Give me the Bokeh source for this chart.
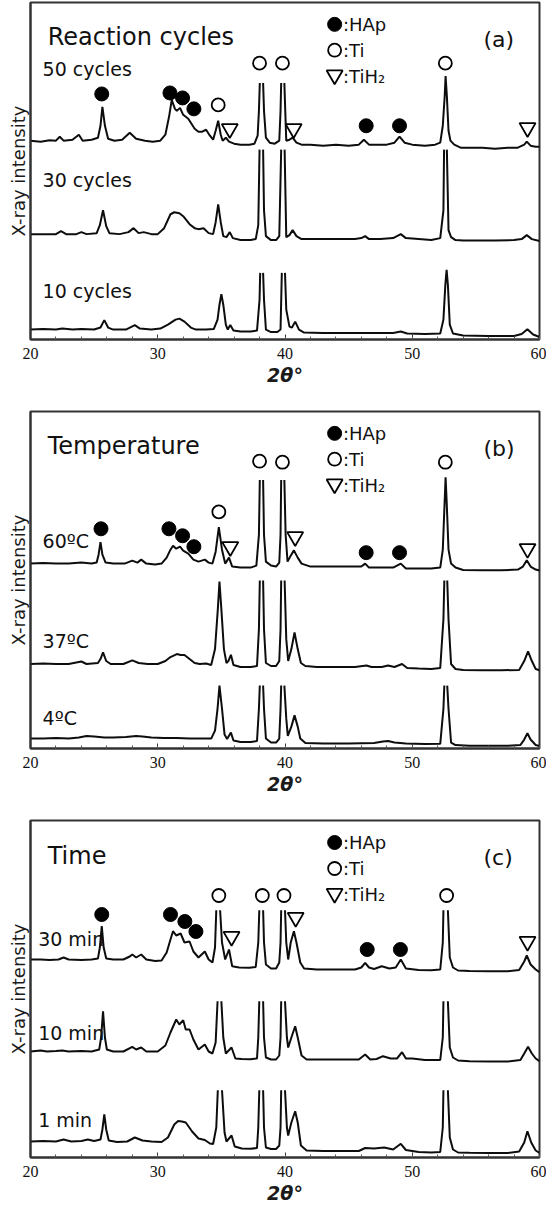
import numpy as np
from bokeh.plotting import figure
from bokeh.layouts import column
from bokeh.models import Range1d, Label, SingleIntervalTicker, FixedTicker
from bokeh.embed import file_html
from bokeh.resources import INLINE

# ---------------- data (2theta in degrees, intensity in arbitrary stacked units) -------------
N = None
cyc50 = [(20.0,200),(20.8,199),(21.5,200.5),(22.0,200),(22.3,204),(22.6,200),(23.3,201),(23.8,206),(24.1,200),
 (24.8,201),(25.3,203),(25.5,215),(25.65,234),(25.85,215),(26.1,202),(26.6,200),(27.2,201),(27.8,208),(28.3,202),
 (29.0,200),(29.6,199),(30.2,200),(30.6,206),(30.9,225),(31.1,241),(31.35,232),(31.5,230),(31.75,233),(32.0,226),
 (32.4,222),(32.7,216),(32.9,212),(33.2,209),(33.5,209),(33.8,211),(34.1,205),(34.35,201),(34.55,210),(34.75,220),
 (34.95,206),(35.1,200),(35.35,203),(35.6,199),(36.0,197),(36.5,196),(37.2,196),(37.6,197),(37.85,205),(37.95,230),
 (38.02,258),(N,N),(38.28,258),(38.35,230),(38.5,203),(38.8,198),(39.2,197),(39.55,200),(39.65,230),(39.7,258),(N,N),
 (39.95,258),(40.02,230),(40.1,200),(40.35,201),(40.6,203),(40.9,198),(41.3,196),(42.0,196),(43.0,195),(44.0,196),
 (45.0,195),(45.8,196),(46.2,201),(46.6,196),(47.2,196),(48.0,196),(48.6,198),(49.0,204),(49.4,198),(50.0,196),
 (51.0,195),(51.8,196),(52.2,198),(52.4,215),(52.55,245),(52.62,265),(52.72,245),(52.85,210),(53.0,200),(53.3,196),
 (53.8,193),(54.5,193),(55.5,193),(56.5,192),(57.5,193),(58.3,193),(58.8,196),(59.0,199),(59.3,195),(59.7,194),(60.0,194)]
cyc30 = [(20.0,106),(21.0,106),(22.0,106),(22.4,109),(22.8,106),(23.6,106),(24.0,108),(24.4,106),(25.2,107),
 (25.45,115),(25.7,130),(25.95,114),(26.2,107),(27.0,106),(27.7,108),(28.1,112),(28.5,107),(28.9,108),(29.5,106),
 (30.0,106),(30.5,112),(31.0,126),(31.3,128),(31.7,127),(32.0,124),(32.5,116),(32.9,112),(33.2,111),(33.6,112),
 (34.0,107),(34.35,106),(34.55,118),(34.75,136),(34.95,118),(35.15,104),(35.4,103),(35.66,108),(35.9,102),(36.5,100),
 (37.3,100),(37.7,101),(37.9,115),(38.0,191),(N,N),(38.28,191),(38.35,130),(38.5,104),(38.9,100),(39.3,100),
 (39.55,104),(39.7,191),(N,N),(39.97,191),(40.1,103),(40.35,105),(40.6,110),(40.9,104),(41.3,101),(42.5,101),
 (44.0,101),(45.5,101),(46.0,102),(46.3,104),(46.6,101),(47.5,101),(48.5,102),(49.1,106),(49.5,102),(50.5,101),
 (51.5,100),(52.2,102),(52.45,130),(52.5,191),(N,N),(52.72,191),(52.85,110),(53.05,103),(53.4,100),(54.0,99.7),
 (55.0,99.5),(56.5,99.5),(58.0,100),(58.6,101),(59.0,105),(59.4,101),(60.0,99)]
cyc10 = [(20.0,10),(21.0,10.5),(22.0,10),(22.5,11),(23.3,10),(24.0,10.5),(25.0,10),(25.5,12),(25.8,19.5),(26.1,12),
 (26.5,10),(27.5,10),(28.2,14.5),(28.6,11),(29.5,10),(30.2,11),(30.8,15),(31.4,20),(31.7,21),(32.1,18),(32.6,12),
 (33.0,10),(33.8,10),(34.4,10.5),(34.7,20),(34.85,35),(35.0,45.5),(35.15,35),(35.35,15),(35.5,10),(35.7,14.5),
 (35.95,9),(36.5,8),(37.3,8),(37.8,9),(38.0,40),(38.05,67),(N,N),(38.28,67),(38.35,40),(38.5,10),(38.9,7.5),
 (39.4,7.5),(39.65,10),(39.75,67),(N,N),(40.0,67),(40.1,30),(40.35,13),(40.55,12),(40.8,18),(41.1,10),(41.5,7),
 (43.0,6.5),(45.0,6.5),(47.0,6.5),(48.5,6.5),(49.1,8),(49.6,6),(51.0,5.5),(52.2,6),(52.45,20),(52.6,55),(52.7,70),
 (52.8,55),(52.95,15),(53.2,6),(54.0,4),(56.0,3.5),(58.0,3.5),(58.6,5.5),(59.05,10.3),(59.5,5),(60.0,2.5)]

t60 = [(20.0,186),(21.0,186.5),(22.0,186),(23.0,186),(24.0,187),(24.8,186),(25.2,187),(25.35,195),(25.5,207.7),
 (25.65,195),(25.9,187),(26.5,186),(27.4,186),(28.0,189),(28.4,187),(28.7,190),(29.1,186),(29.8,185),(30.3,186),
 (30.7,192),(31.0,200),(31.2,204),(31.45,201),(31.75,203),(32.0,199),(32.4,196),(32.8,190),(33.2,188),(33.7,190),
 (34.0,187),(34.3,186),(34.55,198),(34.8,222.7),(35.05,200),(35.3,186),(35.6,192),(35.85,183),(36.5,182),(37.3,182),
 (37.75,184),(37.95,215),(38.02,270),(N,N),(38.28,270),(38.35,215),(38.5,188),(38.9,184),(39.3,183),(39.55,187),
 (39.65,215),(39.7,270),(N,N),(39.95,270),(40.05,215),(40.2,188),(40.45,194),(40.7,199.3),(41.0,192),(41.3,186),
 (42.0,183),(43.0,183),(44.0,183),(45.5,183),(46.0,183),(46.3,186),(46.6,182),(47.5,182),(48.5,182),(49.1,186),
 (49.5,181),(50.5,181),(51.5,181),(52.2,182),(52.4,200),(52.55,250),(52.62,272.7),(52.7,250),(52.85,200),(53.05,186),
 (53.4,182),(54.0,179.5),(55.5,179.3),(57.0,179.3),(58.3,180),(58.7,183),(59.0,189.3),(59.3,183),(59.7,180),(60.0,179)]
t37 = [(20.0,85),(21.0,85.5),(22.0,85),(23.0,85),(24.0,87.5),(24.4,85),(25.3,86),(25.5,90),(25.7,96.7),(25.95,88),
 (26.3,85),(27.3,85),(28.0,88.7),(28.5,86),(29.2,85),(30.0,85),(30.6,88),(31.0,92),(31.5,95),(31.8,94),(32.1,94),
 (32.5,90),(32.9,86),(33.3,85),(33.8,85.5),(34.2,84),(34.5,100),(34.72,140),(34.85,168),(35.0,140),(35.2,100),
 (35.4,86),(35.55,88),(35.75,94.3),(35.95,84),(36.5,82),(37.3,82),(37.8,83),(37.95,120),(38.02,169),(N,N),(38.28,169),
 (38.35,120),(38.5,86),(38.9,83),(39.3,83),(39.55,88),(39.65,120),(39.7,169),(N,N),(39.97,169),(40.1,110),(40.25,88),
 (40.5,100),(40.75,116.7),(41.0,100),(41.25,86),(41.6,83),(42.5,82),(44.0,82),(45.5,82),(46.4,83.5),(46.8,82),
 (47.6,82),(48.1,83.5),(48.6,82),(49.2,85),(49.6,81),(50.5,80.5),(51.5,80),(52.2,81),(52.45,130),(52.52,169),(N,N),
 (52.75,169),(52.85,130),(53.05,85),(53.4,80),(54.0,79),(55.5,78.7),(57.0,78.7),(58.4,79),(58.8,88),(59.1,97.7),
 (59.4,88),(59.7,80),(60.0,78.7)]
t4 = [(20.0,10),(21.0,10),(22.0,10.5),(23.0,10),(23.8,11),(24.4,12.5),(25.0,12),(25.8,11),(26.5,11),(27.5,11.5),
 (28.3,12.5),(28.8,12),(29.5,11),(30.5,10.5),(31.5,10.5),(32.5,10),(33.5,10),(34.2,10),(34.5,18),(34.7,40),(34.85,63.3),
 (35.05,40),(35.25,14),(35.45,9.5),(35.75,16),(35.95,8),(36.5,6.5),(37.3,6.5),(37.8,7.5),(37.95,40),(38.02,63.3),(N,N),
 (38.28,63.3),(38.35,40),(38.5,10),(38.9,6),(39.3,6),(39.55,10),(39.65,40),(39.7,63.3),(N,N),(39.95,63.3),(40.1,30),
 (40.22,12.7),(40.5,22),(40.75,33.3),(41.0,22),(41.2,10),(41.6,5.5),(43.0,5),(45.0,5),(47.0,5.5),(47.7,7),(48.1,7.5),
 (48.6,6),(49.5,5),(51.0,4.5),(52.2,4.7),(52.45,40),(52.52,63.3),(N,N),(52.75,63.3),(52.85,40),(53.05,6),(53.4,3.5),
 (54.5,2.7),(56.0,2.7),(57.5,2.7),(58.5,3.5),(58.8,9),(59.05,15.3),(59.3,9),(59.7,3.5),(60.0,2.5)]

m30 = [(20.0,198),(20.8,198),(21.5,197.5),(22.2,198),(22.6,200),(23.0,198),(24.0,197.5),(24.8,198),(25.3,199),
 (25.45,210),(25.6,231.3),(25.75,210),(25.95,199),(26.5,198),(27.3,198),(27.8,201),(28.0,203),(28.3,200),(28.7,203),
 (29.1,198),(29.8,196.5),(30.3,197),(30.7,205),(31.0,218),(31.2,226.3),(31.45,222),(31.8,224),(32.1,215),(32.5,216),
 (32.8,206),(33.2,200),(33.7,206),(34.0,198),(34.3,195),(34.5,210),(34.6,247.3),(N,N),(34.9,247.3),(35.05,215),
 (35.3,198),(35.6,208),(35.85,191.3),(36.4,190),(37.2,189.7),(37.7,190.5),(37.9,215),(37.98,247.3),(N,N),(38.28,247.3),
 (38.35,215),(38.5,193),(38.9,189),(39.3,189),(39.55,195),(39.65,215),(39.7,247.3),(N,N),(40.0,247.3),(40.1,215),
 (40.25,198),(40.45,215),(40.7,226.3),(40.9,215),(41.2,195),(41.5,189),(42.5,188),(44.0,188),(45.5,188),(46.0,190),
 (46.3,194.7),(46.6,190),(47.0,188.5),(47.6,191.3),(48.2,189),(48.7,190),(49.1,198),(49.5,189),(50.5,187.5),
 (51.5,187.3),(52.2,188),(52.4,215),(52.45,247.3),(N,N),(52.8,247.3),(52.95,200),(53.2,190),(53.6,187),(54.5,186.5),
 (56.0,186.3),(57.5,186.3),(58.4,187.5),(58.8,196),(59.0,202),(59.3,193),(59.7,188),(60.0,185.3)]
m10 = [(20.0,106),(20.8,107),(21.3,106),(22.0,106.5),(22.5,107),(23.0,106),(24.0,106.5),(24.8,106),(25.4,108),
 (25.55,120),(25.7,146.3),(25.85,120),(26.0,108),(26.5,106),(27.3,106),(28.0,110.6),(28.3,108),(28.7,110),(29.1,106),
 (30.0,106),(30.6,112),(31.0,125),(31.45,138),(31.7,133),(32.0,137.3),(32.2,128),(32.5,128),(32.8,118),(33.2,108),
 (33.7,113),(34.0,106),(34.3,104),(34.55,115),(34.7,156.3),(N,N),(35.0,156.3),(35.15,120),(35.35,104),(35.8,110),
 (36.1,99),(36.6,98.5),(37.3,98.3),(37.8,99),(37.9,120),(37.98,156.3),(N,N),(38.28,156.3),(38.35,120),(38.5,100),
 (38.9,98),(39.3,98),(39.55,102),(39.65,120),(39.7,156.3),(N,N),(40.0,156.3),(40.15,120),(40.25,110),(40.5,120),
 (40.8,131.3),(41.0,120),(41.3,102),(41.7,98),(43.0,98),(44.5,98),(45.8,98),(46.3,103),(46.7,98),(47.2,98.5),
 (47.7,101.3),(48.3,99),(48.8,99),(49.2,105.3),(49.5,99),(50.0,99),(51.0,97.5),(52.2,97.5),(52.4,120),(52.45,156.3),
 (N,N),(52.8,156.3),(52.95,110),(53.2,100),(53.6,97),(54.5,96.3),(56.0,96),(57.5,96),(58.5,97.5),(58.8,104),
 (59.1,110.7),(59.4,104),(59.7,99),(60.0,96.3)]
m1 = [(20.0,16),(21.0,16.5),(22.0,16),(22.6,18),(23.2,16),(24.0,16.5),(24.5,18),(25.0,16.5),(25.5,18),(25.65,28),
 (25.8,43),(25.95,28),(26.15,17),(26.8,15.5),(27.6,16),(28.2,20),(28.8,17),(29.5,16),(30.3,15.5),(30.8,20),(31.3,33),
 (31.6,36.5),(31.9,36),(32.2,35),(32.7,26),(33.2,19),(33.7,17.5),(34.1,14),(34.35,13.5),(34.6,30),(34.72,67.3),(N,N),
 (35.05,67.3),(35.25,25),(35.4,16),(35.8,22),(36.05,11),(36.6,9),(37.3,8.7),(37.8,9.5),(37.9,30),(37.98,67.3),(N,N),
 (38.28,67.3),(38.35,30),(38.5,10),(38.9,8.5),(39.3,8.5),(39.55,12),(39.65,30),(39.7,67.3),(N,N),(40.0,67.3),
 (40.15,30),(40.25,22),(40.5,35),(40.8,46.3),(41.0,35),(41.25,12),(41.7,7),(43.0,6.5),(44.5,6.5),(45.8,6.5),(46.3,9.5),
 (47.0,9),(47.8,10),(48.5,8),(49.1,13.7),(49.5,7.5),(50.5,5.5),(51.5,5),(52.2,5.5),(52.4,30),(52.45,67.3),(N,N),
 (52.8,67.3),(52.95,20),(53.2,8),(53.6,5),(54.5,4.7),(56.0,4.5),(57.5,4.5),(58.4,6),(58.8,15),(59.05,26.3),
 (59.35,15),(59.7,7),(60.0,4.7)]

# phase markers: (2theta, height)
hap_a = [(25.6,247),(30.96,248),(31.95,243),(32.84,232),(46.38,215),(49.0,215)]
ti_a = [(34.75,236),(38.0,278),(39.8,278),(52.6,278)]
tih2_a = [(35.66,212),(40.68,212),(59.06,213)]
hap_b = [(25.54,221),(30.88,221),(31.95,214),(32.84,203),(46.38,197),(49.0,197)]
ti_b = [(34.8,238),(38.0,289),(39.8,288),(52.6,288)]
tih2_b = [(35.7,203),(40.8,213),(59.06,201)]
hap_c = [(25.6,243),(31.0,243),(32.13,236),(33.0,226),(46.46,208),(49.07,208)]
ti_c = [(34.8,262),(38.22,262),(39.92,262),(52.7,262)]
tih2_c = [(35.8,221),(40.84,240),(59.06,216)]

titles = ["Reaction cycles", "Temperature", "Time"]
tags = ["(a)", "(b)", "(c)"]
names_a = ["50 cycles", "30 cycles", "10 cycles"]
names_b = ["60ºC", "37ºC", "4ºC"]
names_c = ["30 min", "10 min", "1 min"]
legend_names = [":HAp", ":Ti", ":TiH₂"]
x_ticks_step = 10

FONT = "DejaVu Sans"
INK = "#0d0d0d"


def xy(pairs):
    a = np.array([[np.nan if v is None else v for v in pr] for pr in pairs], dtype=float)
    return a[:, 0], a[:, 1]


def panel(height, btop, bbot, ymax, traces, names, name_pos, title, tag, hap, ti, tih2):
    p = figure(width=546, height=height, title=None, x_range=Range1d(20, 60), y_range=Range1d(0, ymax),
               output_backend="svg", toolbar_location=None,
               min_border_left=30, min_border_right=7, min_border_top=btop, min_border_bottom=bbot)
    p.grid.visible = False
    p.outline_line_color = "#333333"
    p.outline_line_width = 2
    p.background_fill_color = "white"
    p.border_fill_color = "white"

    xa = p.xaxis[0]
    xa.ticker = SingleIntervalTicker(interval=x_ticks_step, num_minor_ticks=5)
    xa.major_tick_in = 5
    xa.major_tick_out = 0
    xa.minor_tick_in = 3
    xa.minor_tick_out = 0
    xa.axis_line_width = 2
    xa.axis_line_color = "#333333"
    xa.major_tick_line_color = "#333333"
    xa.minor_tick_line_color = "#555555"
    xa.major_label_text_font = "Liberation Sans Narrow"
    xa.major_label_text_font_size = "16px"
    xa.major_label_text_color = "#111111"
    xa.major_label_standoff = 8
    xa.axis_label = "2θ°"
    xa.axis_label_text_font = FONT
    xa.axis_label_text_font_style = "bold italic"
    xa.axis_label_text_font_size = "19px"
    xa.axis_label_text_color = "#1a1a1a"
    xa.axis_label_standoff = 2

    ya = p.yaxis[0]
    ya.ticker = FixedTicker(ticks=[])
    ya.major_tick_in = 0
    ya.major_tick_out = 0
    ya.minor_tick_in = 0
    ya.minor_tick_out = 0
    ya.axis_line_width = 2
    ya.axis_line_color = "#333333"
    ya.major_label_text_font_size = "0px"
    ya.axis_label = "X-ray intensity"
    ya.axis_label_text_font = FONT
    ya.axis_label_text_font_style = "normal"
    ya.axis_label_text_font_size = "18px"
    ya.axis_label_text_color = "#1a1a1a"
    ya.axis_label_standoff = 2

    for tr in traces:
        x, y = xy(tr)
        p.line(x, y, line_color=INK, line_width=2.0)

    hx, hy = xy(hap)
    p.scatter(hx, hy, marker="circle", size=14, fill_color="black", line_color="black")
    tx, ty = xy(ti)
    p.scatter(tx, ty, marker="circle", size=13, fill_color="white", line_color="black", line_width=1.8)
    dx, dy = xy(tih2)
    p.scatter(dx, dy, marker="inverted_triangle", size=16, fill_color="white", line_color="black", line_width=1.8)

    # legend block
    lx = 43.9
    ly = [ymax - 22, ymax - 48, ymax - 74]
    p.scatter([lx], [ly[0]], marker="circle", size=14, fill_color="black", line_color="black")
    p.scatter([lx], [ly[1]], marker="circle", size=13, fill_color="white", line_color="black", line_width=1.8)
    p.scatter([lx], [ly[2] + 1], marker="inverted_triangle", size=16, fill_color="white", line_color="black", line_width=1.8)
    for txt, yy in zip(legend_names, ly):
        p.add_layout(Label(x=44.55, y=yy, text=txt, text_font=FONT, text_font_size="18px", text_color="#111111",
                           text_baseline="middle", text_align="left"))

    p.add_layout(Label(x=21.35, y=ymax - 35, text=title, text_font=FONT, text_font_size="24px",
                       text_color="#111111", text_baseline="middle", text_align="left"))
    p.add_layout(Label(x=55.6, y=ymax - 37, text=tag, text_font=FONT, text_font_size="22px",
                       text_color="#111111", text_baseline="middle", text_align="left"))
    for nm, (nx, ny) in zip(names, name_pos):
        p.add_layout(Label(x=nx, y=ny, text=nm, text_font=FONT, text_font_size="19px", text_color="#111111",
                           text_baseline="middle", text_align="left"))
    return p


pa = panel(407, 2, 68, 339, [cyc50, cyc30, cyc10], names_a, [(20.95, 272), (20.95, 160), (20.95, 49)],
           titles[0], tags[0], hap_a, ti_a, tih2_a)
pb = panel(409, 4, 68, 339, [t60, t37, t4], names_b, [(20.95, 209), (20.95, 108), (20.95, 31)],
           titles[1], tags[1], hap_b, ti_b, tih2_b)
pc = panel(391, 4, 50, 337, [m30, m10, m1], names_c, [(20.6, 219), (20.6, 125), (20.6, 38)],
           titles[2], tags[2], hap_c, ti_c, tih2_c)

layout = column(pa, pb, pc, spacing=0)
open("out.html", "w").write(file_html(layout, INLINE))
